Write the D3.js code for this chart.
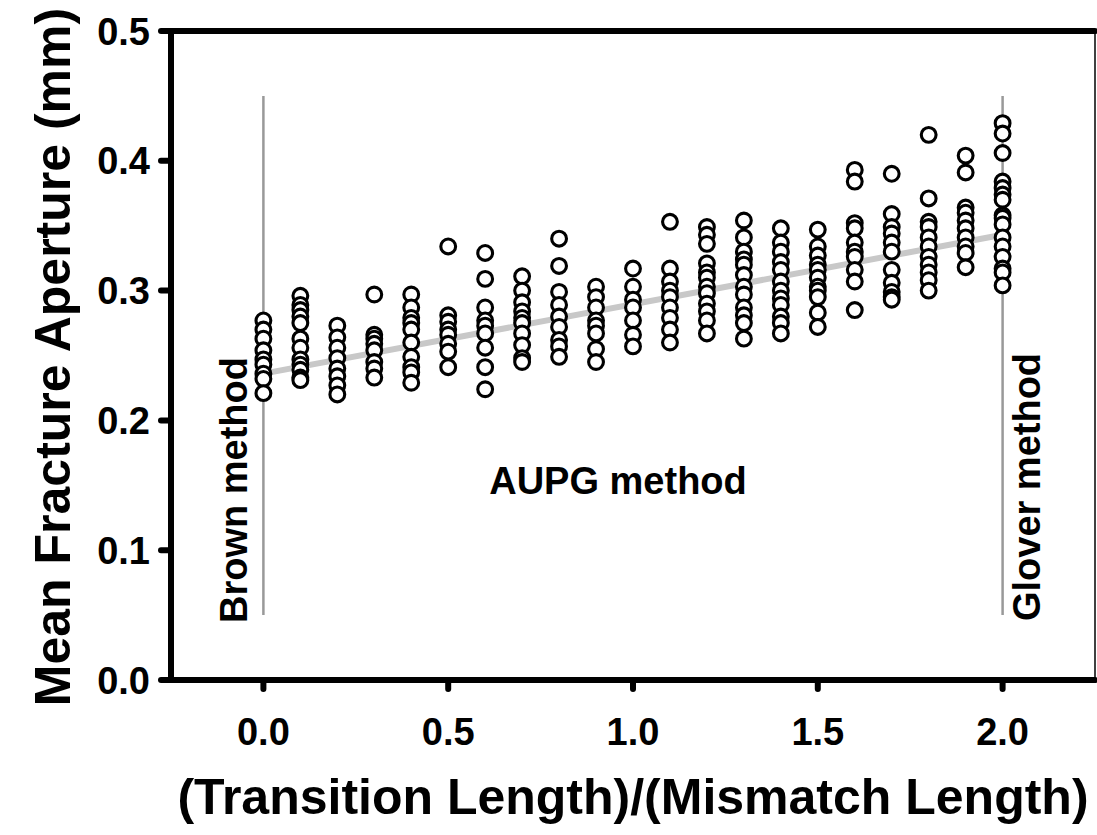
<!DOCTYPE html>
<html>
<head>
<meta charset="utf-8">
<script src="https://cdn.jsdelivr.net/npm/d3@7"></script>
<style>
  html, body { margin: 0; padding: 0; background: #fff; }
  svg text { font-family: "Liberation Sans", Arial, Helvetica, sans-serif; font-weight: bold; fill: #000; }
</style>
</head>
<body>
<svg id="chart" width="1097" height="835"></svg>
<script>
// Ratio of transition length to mismatch length for each group of runs
const ratios = [0.0, 0.1, 0.2, 0.3, 0.4, 0.5, 0.6, 0.7, 0.8, 0.9, 1.0,
                1.1, 1.2, 1.3, 1.4, 1.5, 1.6, 1.7, 1.8, 1.9, 2.0];

// Mean fracture aperture (mm) of every run, one list per ratio
const apertures = [
  [0.277, 0.270, 0.263, 0.254, 0.247, 0.243, 0.236, 0.232, 0.221],
  [0.296, 0.289, 0.285, 0.280, 0.275, 0.263, 0.256, 0.247, 0.243, 0.239, 0.233, 0.231],
  [0.273, 0.264, 0.256, 0.248, 0.240, 0.234, 0.227, 0.220],
  [0.297, 0.266, 0.263, 0.259, 0.254, 0.245, 0.240, 0.233],
  [0.297, 0.287, 0.279, 0.275, 0.270, 0.260, 0.249, 0.241, 0.237, 0.229],
  [0.334, 0.281, 0.276, 0.270, 0.266, 0.259, 0.253, 0.241],
  [0.329, 0.309, 0.287, 0.277, 0.273, 0.267, 0.256, 0.241, 0.224],
  [0.311, 0.300, 0.291, 0.284, 0.279, 0.275, 0.267, 0.258, 0.248, 0.245],
  [0.340, 0.319, 0.299, 0.289, 0.280, 0.272, 0.262, 0.257, 0.249],
  [0.303, 0.295, 0.287, 0.277, 0.273, 0.267, 0.255, 0.245],
  [0.317, 0.303, 0.293, 0.287, 0.277, 0.266, 0.257],
  [0.353, 0.317, 0.307, 0.300, 0.295, 0.287, 0.279, 0.270, 0.260],
  [0.349, 0.343, 0.336, 0.321, 0.314, 0.310, 0.303, 0.298, 0.290, 0.284, 0.277, 0.267],
  [0.354, 0.341, 0.330, 0.324, 0.320, 0.312, 0.303, 0.297, 0.287, 0.281, 0.275, 0.263],
  [0.348, 0.337, 0.330, 0.322, 0.316, 0.307, 0.300, 0.294, 0.289, 0.280, 0.275, 0.267],
  [0.347, 0.334, 0.327, 0.320, 0.316, 0.310, 0.303, 0.300, 0.295, 0.283, 0.272],
  [0.393, 0.384, 0.352, 0.348, 0.337, 0.330, 0.326, 0.316, 0.307, 0.285],
  [0.390, 0.359, 0.349, 0.344, 0.337, 0.330, 0.316, 0.306, 0.299, 0.295, 0.293],
  [0.420, 0.371, 0.353, 0.349, 0.341, 0.334, 0.326, 0.320, 0.314, 0.308, 0.300],
  [0.404, 0.391, 0.364, 0.360, 0.354, 0.348, 0.341, 0.334, 0.329, 0.318],
  [0.429, 0.421, 0.406, 0.384, 0.379, 0.374, 0.370, 0.358, 0.356, 0.351, 0.341, 0.334, 0.326, 0.317, 0.314, 0.304]
];

// Linear trend through the runs: [ratio, aperture] at both ends
const trendX = [0.0, 2.0];
const trendY = [0.236, 0.343];

// Reference methods at the ends of the ratio range
const methodX = [0.0, 2.0];
const methodNames = ["Brown method", "Glover method"];
const methodSpan = [0.05, 0.45];

const xTicks = [0.0, 0.5, 1.0, 1.5, 2.0];
const yTicks = [0.0, 0.1, 0.2, 0.3, 0.4, 0.5];

const svg = d3.select("#chart");
const plotLeft = 171, plotRight = 1095, plotTop = 31, plotBottom = 680;

const x = d3.scaleLinear().domain([-0.25, 2.25]).range([plotLeft, plotRight]);
const y = d3.scaleLinear().domain([0, 0.5]).range([plotBottom, plotTop]);
const fmt = d3.format(".1f");

// Frame: thin right edge, heavy top, left and bottom
svg.append("line")
  .attr("x1", plotRight).attr("x2", plotRight).attr("y1", plotTop).attr("y2", plotBottom)
  .attr("stroke", "#000").attr("stroke-width", 1.5);

const heavy = g => g.attr("stroke", "#000").attr("stroke-width", 6).attr("stroke-linecap", "round");

svg.append("line").attr("x1", plotLeft).attr("x2", plotRight).attr("y1", plotTop).attr("y2", plotTop).call(heavy);
svg.append("line").attr("x1", plotLeft).attr("x2", plotRight).attr("y1", plotBottom).attr("y2", plotBottom).call(heavy);
svg.append("line").attr("x1", plotLeft).attr("x2", plotLeft).attr("y1", plotTop).attr("y2", plotBottom).call(heavy);

// Y ticks and labels
svg.selectAll(".ytick").data(yTicks).join("line")
  .attr("class", "ytick")
  .attr("x1", plotLeft - 10).attr("x2", plotLeft)
  .attr("y1", d => y(d)).attr("y2", d => y(d))
  .call(heavy);
svg.selectAll(".ylab").data(yTicks).join("text")
  .attr("class", "ylab")
  .attr("x", plotLeft - 21).attr("y", d => y(d))
  .attr("dy", "0.36em")
  .attr("text-anchor", "end")
  .style("font-size", "38px")
  .text(fmt);

// X ticks and labels
svg.selectAll(".xtick").data(xTicks).join("line")
  .attr("class", "xtick")
  .attr("x1", d => x(d)).attr("x2", d => x(d))
  .attr("y1", plotBottom).attr("y2", plotBottom + 9)
  .call(heavy);
svg.selectAll(".xlab").data(xTicks).join("text")
  .attr("class", "xlab")
  .attr("x", d => x(d)).attr("y", 745)
  .attr("text-anchor", "middle")
  .style("font-size", "38px")
  .text(fmt);

// Axis titles
svg.append("text")
  .attr("transform", `translate(633,${800})`)
  .attr("y", 14)
  .attr("text-anchor", "middle")
  .style("font-size", "50px")
  .text("(Transition Length)/(Mismatch Length)");

svg.append("text")
  .attr("transform", `translate(70,${357}) rotate(-90)`)
  .attr("text-anchor", "middle")
  .style("font-size", "50px")
  .text("Mean Fracture Aperture (mm)");

// Vertical guides for the two reference methods
svg.selectAll(".method").data(methodX).join("line")
  .attr("class", "method")
  .attr("x1", d => x(d)).attr("x2", d => x(d))
  .attr("y1", y(methodSpan[1])).attr("y2", y(methodSpan[0]))
  .attr("stroke", "#999").attr("stroke-width", 2.5);

// Trend line
svg.append("line")
  .attr("x1", x(trendX[0])).attr("y1", y(trendY[0]))
  .attr("x2", x(trendX[1])).attr("y2", y(trendY[1]))
  .attr("stroke", "#c8c8c8").attr("stroke-width", 6);

// Runs
const pts = ratios.flatMap((r, i) => apertures[i].map(v => ({ r, v })));
svg.append("g").selectAll("circle").data(pts).join("circle")
  .attr("cx", d => x(d.r)).attr("cy", d => y(d.v))
  .attr("r", 7.4)
  .attr("fill", "#fff").attr("stroke", "#000").attr("stroke-width", 3.1);

// Method labels
svg.append("text")
  .attr("transform", `translate(${x(0) - 30},${490}) rotate(-90)`)
  .attr("dy", "0.36em")
  .attr("text-anchor", "middle")
  .style("font-size", "38px")
  .text(methodNames[0]);
svg.append("text")
  .attr("transform", `translate(${x(2) + 24},${487}) rotate(-90)`)
  .attr("dy", "0.36em")
  .attr("text-anchor", "middle")
  .style("font-size", "38px")
  .text(methodNames[1]);
svg.append("text")
  .attr("x", 618).attr("y", 480)
  .attr("dy", "0.36em")
  .attr("text-anchor", "middle")
  .style("font-size", "38px")
  .text("AUPG method");
</script>
</body>
</html>
